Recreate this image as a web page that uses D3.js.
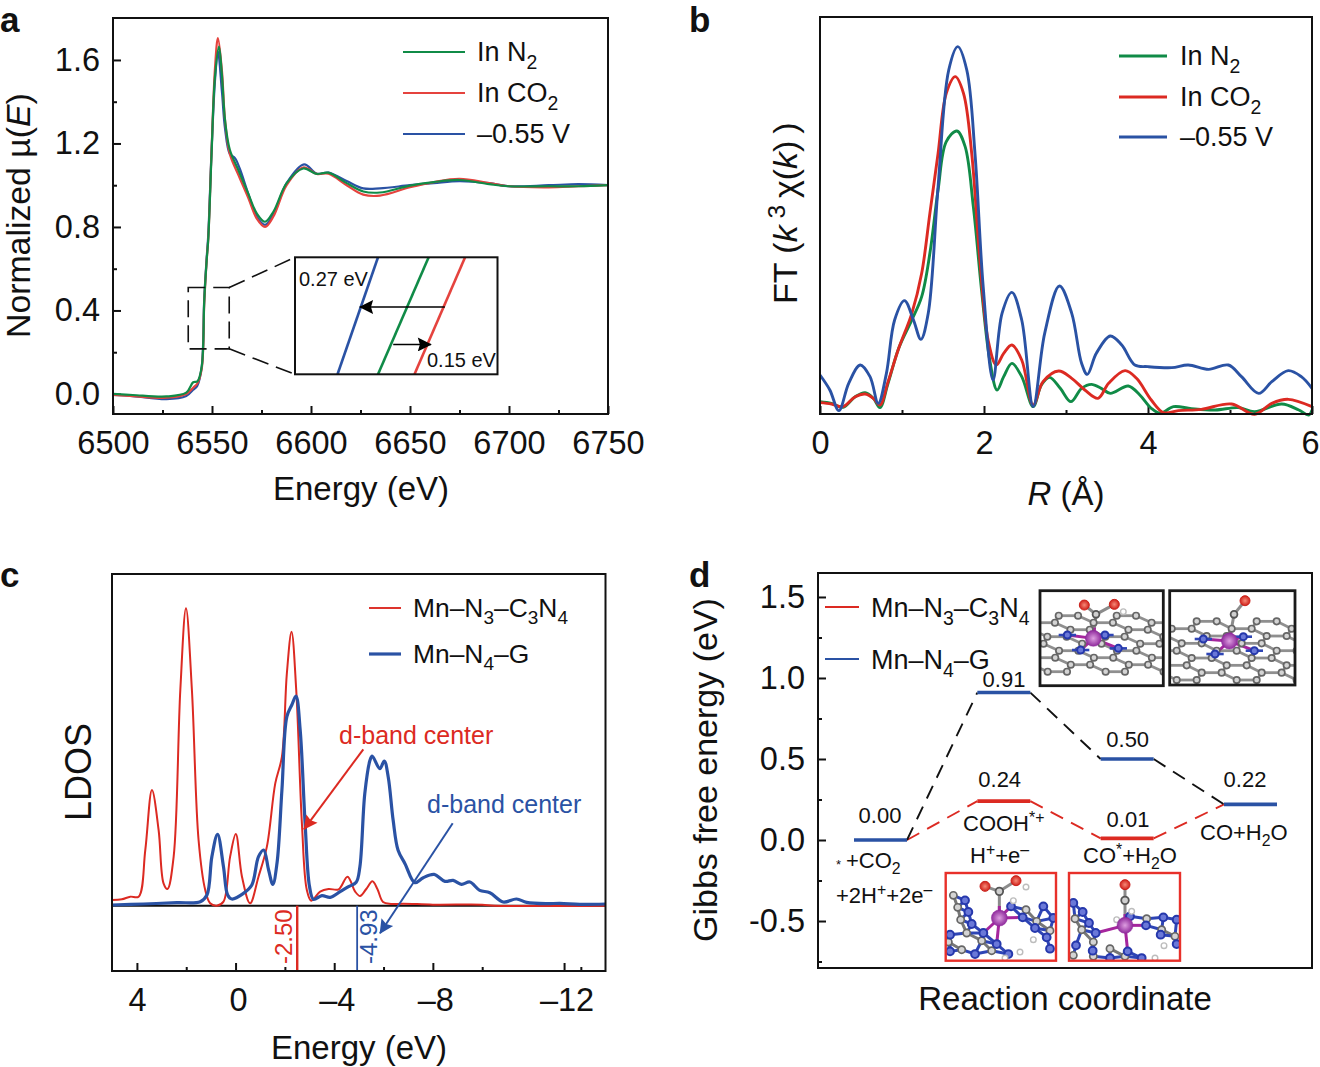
<!DOCTYPE html>
<html><head><meta charset="utf-8">
<script src="https://cdn.jsdelivr.net/npm/d3@7"></script>
<style>
html,body{margin:0;padding:0;background:#fff}
svg{display:block}
text{font-family:"Liberation Sans",Arial,sans-serif;fill:#111}
</style></head><body>
<svg id="c" width="1320" height="1067" xmlns="http://www.w3.org/2000/svg"></svg>
<script>
// ---------- Panel a : XANES ----------
const xanesN2 = [[6500,0],[6510,-0.005],[6527,-0.012],[6537,0.006],[6540.5,0.056],[6542.6,0.06],[6544.8,0.13],[6546.1,0.45],[6547.3,0.64],[6548.1,0.74],[6549.8,1.155],[6551.5,1.52],[6553.5,1.664],[6555,1.53],[6556.6,1.31],[6559,1.17],[6563.3,1.073],[6568.3,0.96],[6572.6,0.865],[6576.8,0.825],[6581,0.873],[6587.7,1.01],[6596.1,1.08],[6602.9,1.054],[6608.8,1.06],[6618,1.01],[6626.4,0.97],[6634.8,0.965],[6650,0.998],[6662,1.015],[6675,1.025],[6690,1.005],[6700,0.995],[6720,0.995],[6735,0.995],[6750,1.0]];
const xanesCO2 = [[6500,-0.005],[6510,-0.01],[6527,-0.018],[6537,0.0],[6540.5,0.03],[6542.6,0.05],[6544.8,0.12],[6546.1,0.44],[6547.3,0.64],[6548.1,0.74],[6549.8,1.17],[6551.5,1.56],[6553,1.705],[6555,1.55],[6556.6,1.31],[6559,1.15],[6563.3,1.05],[6568.3,0.94],[6572.6,0.84],[6576.8,0.8],[6581,0.85],[6587.7,1.0],[6596.1,1.085],[6602.9,1.054],[6608.8,1.055],[6618,1.0],[6626.4,0.955],[6634.8,0.95],[6650,0.99],[6662,1.015],[6675,1.03],[6690,1.01],[6700,0.995],[6720,0.99],[6735,0.995],[6750,1.0]];
const xanesV = [[6500,-0.005],[6510,-0.01],[6527,-0.025],[6537,-0.01],[6540.5,0.02],[6542.6,0.04],[6544.8,0.13],[6546.1,0.46],[6547.3,0.65],[6548.1,0.76],[6549.8,1.17],[6551.5,1.5],[6553,1.64],[6555,1.45],[6556.6,1.27],[6559,1.15],[6561.6,1.13],[6564,1.08],[6568.3,0.96],[6572.6,0.85],[6576.8,0.81],[6581,0.86],[6587.7,1.01],[6596.5,1.1],[6602.9,1.055],[6608.8,1.06],[6618,1.02],[6626.4,0.985],[6634.8,0.985],[6650,1.0],[6662,1.01],[6675,1.02],[6690,1.01],[6700,0.995],[6720,1.0],[6735,1.005],[6750,1.0]];
const xTicksA = [6500,6550,6600,6650,6700,6750];
const xMinorA = [6525,6575,6625,6675,6725];
const yTicksA = [0,0.4,0.8,1.2,1.6];
const yMinorA = [0.2,0.6,1.0,1.4];
const legendA = ["In N_{2}","In CO_{2}","–0.55 V"];
const insetShift = {blue:[0.21,0.41],green:[0.41,0.66],red:[0.59,0.84]};

// ---------- Panel b : EXAFS ----------
const ftV = [[0,1.17],[0.12,0.72],[0.23,0.1],[0.35,0.92],[0.49,1.47],[0.61,1.12],[0.71,0.32],[0.81,1.22],[0.91,2.82],[1.03,3.4],[1.14,2.82],[1.23,2.24],[1.32,3.02],[1.44,6.82],[1.57,10.32],[1.68,11.02],[1.79,10.32],[1.89,7.82],[1.99,3.82],[2.11,1.02],[2.22,3.02],[2.34,3.65],[2.46,2.82],[2.6,0.22],[2.74,2.42],[2.92,3.84],[3.07,3.02],[3.19,1.52],[3.26,1.19],[3.37,1.82],[3.54,2.34],[3.68,2.07],[3.84,1.47],[4,1.42],[4.29,1.39],[4.49,1.47],[4.74,1.34],[4.98,1.47],[5.14,1.12],[5.35,0.62],[5.51,0.97],[5.71,1.3],[5.87,1.12],[6,0.77]];
const ftN2 = [[0,0.37],[0.14,0.32],[0.28,0.2],[0.43,0.52],[0.55,0.64],[0.65,0.47],[0.73,0.19],[0.83,0.92],[0.96,1.97],[1.12,2.82],[1.24,3.52],[1.34,4.82],[1.44,6.72],[1.54,8.17],[1.67,8.49],[1.77,8.02],[1.87,6.22],[1.97,3.72],[2.07,1.62],[2.16,0.72],[2.24,1.12],[2.34,1.52],[2.46,1.12],[2.6,0.22],[2.7,0.87],[2.8,1.1],[2.93,0.77],[3.06,0.37],[3.19,0.77],[3.31,0.89],[3.43,0.77],[3.54,0.62],[3.76,0.84],[3.9,0.57],[4.04,0.17],[4.15,0.02],[4.31,0.22],[4.53,0.16],[4.82,0.12],[5.1,0.19],[5.3,0.07],[5.63,0.3],[5.84,0.12],[5.96,-0.03],[6,0.12]];
const ftCO2 = [[0,0.34],[0.14,0.3],[0.28,0.22],[0.43,0.52],[0.55,0.6],[0.65,0.47],[0.73,0.27],[0.83,0.97],[0.96,1.97],[1.12,3.02],[1.24,4.22],[1.34,6.02],[1.44,7.82],[1.54,9.62],[1.65,10.12],[1.75,9.62],[1.85,7.82],[1.95,4.62],[2.05,2.22],[2.15,1.47],[2.24,1.82],[2.34,2.07],[2.46,1.62],[2.6,0.27],[2.72,0.97],[2.91,1.29],[3.07,1.07],[3.23,0.72],[3.39,0.47],[3.52,0.92],[3.72,1.3],[3.86,1.07],[4.04,0.42],[4.19,0.04],[4.37,0.1],[4.65,0.14],[5.02,0.3],[5.3,-0.01],[5.51,0.32],[5.71,0.44],[6,0.22]];
const xTicksB = [0,2,4,6];
const xMinorB = [1,3,5];

// ---------- Panel c : LDOS ----------
const ldosC3N4 = [[5.01,0.17],[4.61,0.19],[4.27,0.27],[3.93,0.27],[3.66,1.67],[3.39,3.47],[3.12,2.27],[2.92,0.67],[2.76,0.5],[2.51,1.47],[2.24,6.47],[2.01,8.92],[1.77,6.47],[1.5,1.97],[1.23,0.47],[1.03,0.07],[0.76,0],[0.49,0.12],[0.22,1.47],[-0.01,2.15],[-0.26,0.87],[-0.59,0.07],[-0.93,0.87],[-1.27,1.77],[-1.61,3.67],[-1.88,4.47],[-2.08,6.97],[-2.27,8.22],[-2.46,6.47],[-2.69,2.47],[-2.89,0.47],[-3.07,0.15],[-3.43,0.42],[-3.77,0.5],[-4.18,0.49],[-4.54,0.87],[-4.85,0.42],[-5.05,0.29],[-5.3,0.5],[-5.55,0.73],[-5.75,0.5],[-5.98,0.11],[-6.3,0.05],[-6.8,0.06],[-8,0.03],[-10,0.03],[-10.5,0],[-15,0]];
const ldosG = [[5.01,0.02],[3.73,0.05],[2.38,0.09],[1.43,0.12],[1.16,0.32],[0.96,1.47],[0.73,2.14],[0.49,1.17],[0.32,0.32],[0.15,0.2],[-0.32,0.37],[-0.66,0.62],[-0.93,1.47],[-1.14,1.67],[-1.34,1.07],[-1.51,0.64],[-1.68,1.27],[-1.88,3.47],[-2.08,5.67],[-2.28,6.02],[-2.45,6.29],[-2.62,5.27],[-2.82,2.47],[-3,0.57],[-3.16,0.19],[-3.5,0.3],[-3.84,0.25],[-4.24,0.42],[-4.58,0.57],[-4.89,0.7],[-5.04,1.16],[-5.24,3.36],[-5.45,4.36],[-5.54,4.49],[-5.85,4.11],[-6.03,4.34],[-6.19,3.86],[-6.39,2.56],[-6.59,1.66],[-6.87,1.26],[-7.27,0.69],[-7.61,0.84],[-8.05,0.94],[-8.49,0.73],[-8.82,0.76],[-9.16,0.64],[-9.5,0.71],[-9.9,0.46],[-10.31,0.39],[-10.85,0.11],[-11.39,0.2],[-11.8,0.1],[-12.6,0.06],[-13.15,0.07],[-13.96,0.04],[-15,0.05]];
const bandCenters = {red:-2.5, blue:-4.93};
const xTicksC = [4,0,-4,-8,-13.32];
const xTickLabelsC = ["4","0","–4","–8","–12"];
const xMinorC = [2,-2,-6,-10,-14];
const legendCD = ["Mn–N_{3}–C_{3}N_{4}","Mn–N_{4}–G"];

// ---------- Panel d : free energy ----------
const stepIndex = [0,1,2,3];
const energyG = [0.00,0.91,0.50,0.22];
const energyC3N4 = [0.00,0.24,0.01,0.22];
const energyLabelsG = ["0.00","0.91","0.50","0.22"];
const energyLabelsC = ["0.24","0.01"];
const yTicksD = [-0.5,0,0.5,1.0,1.5];
const yMinorD = [-0.75,-0.25,0.25,0.75,1.25];

// ---------- Molecular insets (atoms in inset-local units) ----------
const mol1 = {
 sheet:{ox:38,oy:260,a:58,h:21,s:17.6,levels:9}, gray:[],
 blue:[[97,150],[210,150],[137,195],[250,190]], mn:[175,160], c:[[183,88]], o:[[148,60],[238,58]], h:[[265,80]]};
const mol2 = {
 sheet:{ox:425,oy:285,a:60,h:22,s:15,levels:9}, gray:[],
 blue:[[505,162],[625,155],[540,207],[658,197]], mn:[583,168], c:[[597,88]], o:[[630,47]], h:[]};
const mol3 = {
 gray:[[40,82],[53,118],[62,155],[80,195],[125,218],[65,245],[155,248],[258,125],[290,160],[330,188],[25,222]],
 blue:[[75,97],[85,132],[95,168],[130,195],[30,200],[170,228],[105,258],[205,258],[30,250],[213,115],[248,148],[310,115],[340,150],[285,180],[320,208],[330,242]],
 mn:[178,150], c:[[178,70]], o:[[135,55],[228,38]], h:[[258,57],[220,98],[280,215],[240,252],[195,270]]};
const mol4 = {
 gray:[[405,152],[425,185],[460,222],[510,242],[400,262],[460,265],[620,152],[665,185],[705,205],[555,265]],
 blue:[[400,105],[428,132],[447,165],[467,195],[408,232],[563,250],[458,248],[605,270],[510,270],[570,145],[618,172],[670,148],[710,155],[662,200],[710,228]],
 mn:[555,172], c:[[555,97]], o:[[555,50]], h:[[530,155],[575,130],[672,233],[645,270]]};

const GREEN="#108b47", REDL="#e5433e", RED="#dc2a22", BLUE="#2a52a4";
const svg=d3.select("#c");
const defs=svg.append("defs");
defs.append("filter").attr("id","soft").append("feGaussianBlur").attr("stdDeviation",0.55);
function mk(id,c){defs.append("marker").attr("id",id).attr("viewBox","0 0 10 10").attr("refX",9.5).attr("refY",5)
 .attr("markerUnits","userSpaceOnUse").attr("markerWidth",17).attr("markerHeight",14).attr("orient","auto")
 .append("path").attr("d","M0,0L10,5L0,10L1.5,5Z").attr("fill",c);}
mk("aK","#000");mk("aR",RED);mk("aB",BLUE);
function radial(id,c0,c1){const g=defs.append("radialGradient").attr("id",id);g.append("stop").attr("offset","0%").attr("stop-color",c0);g.append("stop").attr("offset","100%").attr("stop-color",c1);}
radial("gMn","#dd9ee0","#8f2a9c");radial("gO","#f58a78","#d0211a");

function rich(t,s){
 const parts=s.split(/(_\{[^}]*\}|\^\{[^}]*\}|\*\{[^}]*\})/).filter(p=>p.length);
 let pend=0;const fs=parseFloat(t.attr("font-size"));
 parts.forEach(p=>{
  const m=p.match(/^([_^*])\{(.*)\}$/);
  const ts=t.append("tspan");
  let shift=0;
  if(m&&m[1]!=="*"){shift=(m[1]==="_"?0.28:-0.36)*fs;ts.attr("font-size",fs*0.72).text(m[2]);}
  else if(m){ts.attr("font-style","italic").text(m[2]);}
  else ts.text(p);
  const dy=pend+shift; if(dy) ts.attr("dy",dy);
  pend=-shift;
 });
 return t;
}
function label(x,y,s,o={}){
 const t=svg.append("text").attr("x",x).attr("y",y).attr("font-size",o.size||32)
  .attr("text-anchor",o.anchor||"start").style("fill",o.fill||"#111");
 if(o.rotate) t.attr("transform",`rotate(-90 ${x} ${y})`);
 if(o.bold) t.attr("font-weight","bold");
 return rich(t,s);
}
function frame(x0,y0,x1,y1,sw=2){svg.append("rect").attr("x",x0).attr("y",y0).attr("width",x1-x0).attr("height",y1-y0).attr("fill","none").attr("stroke","#111").attr("stroke-width",sw);}
function axis(gen,tx,ty){
 const g=svg.append("g").attr("transform",`translate(${tx},${ty})`).call(gen);
 g.select(".domain").remove();
 g.selectAll("line").attr("stroke","#111").attr("stroke-width",2);
 g.selectAll("text").attr("font-size",32.5).attr("font-family",'"Liberation Sans",Arial,sans-serif').style("fill","#111");
 return g;
}
function curve(sc,sy,d,color,w,cv){
 svg.append("path").attr("d",d3.line().x(p=>sc(p[0])).y(p=>sy(p[1])).curve(cv||d3.curveCatmullRom.alpha(0.5))(d))
  .attr("fill","none").attr("stroke",color).attr("stroke-width",w).attr("stroke-linejoin","round");
}
function legendRows(x0,x1,tx,ys,labels,colors,w,size,baseOff){
 labels.forEach((l,i)=>{
  svg.append("line").attr("x1",x0).attr("x2",x1).attr("y1",ys[i]).attr("y2",ys[i]).attr("stroke",colors[i]).attr("stroke-width",Array.isArray(w)?w[i]:w);
  label(tx,ys[i]+baseOff,l,{size});
 });
}

/* ===== a ===== */
const ax=d3.scaleLinear().domain([6500,6750]).range([113,608]);
const ay=d3.scaleLinear().domain([-0.096,1.801]).range([414,18]);
axis(d3.axisBottom(ax).tickValues(xTicksA).tickFormat(d3.format("d")).tickSize(-8).tickPadding(17),0,414);
axis(d3.axisBottom(ax).tickValues(xMinorA).tickFormat("").tickSize(-4),0,414);
axis(d3.axisLeft(ay).tickValues(yTicksA).tickFormat(d3.format(".1f")).tickSize(-8).tickPadding(13),113,0);
axis(d3.axisLeft(ay).tickValues(yMinorA).tickFormat("").tickSize(-4),113,0);
curve(ax,ay,xanesV,BLUE,2.2);
curve(ax,ay,xanesCO2,REDL,2.2);
curve(ax,ay,xanesN2,GREEN,2.2);
frame(113,18,608,414);
label(0,32,"a",{size:35,bold:true});
label(30,338,"Normalized µ(*{E})",{size:33.8,rotate:true});
label(361,500,"Energy (eV)",{size:33,anchor:"middle"});
legendRows(403,465,477,[52,93,134],legendA,[GREEN,REDL,BLUE],2.2,27,9);
// zoom box and inset
const dash="17 8";
svg.append("rect").attr("x",ax(6538)).attr("y",ay(0.51)).attr("width",ax(6558.7)-ax(6538)).attr("height",ay(0.216)-ay(0.51)).attr("fill","none").attr("stroke","#111").attr("stroke-width",1.6).attr("stroke-dasharray",dash);
const ix=d3.scaleLinear().domain([0,1]).range([295,497.5]);
const iy=d3.scaleLinear().domain([0,1]).range([374.3,257.3]);
svg.append("line").attr("x1",ax(6558.7)).attr("y1",ay(0.51)).attr("x2",ix(0)).attr("y2",iy(1)).attr("stroke","#111").attr("stroke-width",1.6).attr("stroke-dasharray",dash);
svg.append("line").attr("x1",ax(6558.7)).attr("y1",ay(0.216)).attr("x2",ix(0)).attr("y2",iy(0)).attr("stroke","#111").attr("stroke-width",1.6).attr("stroke-dasharray",dash);
[["blue",BLUE],["green",GREEN],["red",REDL]].forEach(([k,c])=>{
 svg.append("line").attr("x1",ix(insetShift[k][0])).attr("y1",iy(0)).attr("x2",ix(insetShift[k][1])).attr("y2",iy(1)).attr("stroke",c).attr("stroke-width",2.6);
});
svg.append("rect").attr("x",295).attr("y",257.3).attr("width",202.5).attr("height",117).attr("fill","none").attr("stroke","#111").attr("stroke-width",2);
svg.append("line").attr("x1",ix(0.74)).attr("x2",ix(0.32)).attr("y1",iy(0.575)).attr("y2",iy(0.575)).attr("stroke","#000").attr("stroke-width",1.6).attr("marker-end","url(#aK)");
svg.append("line").attr("x1",ix(0.485)).attr("x2",ix(0.672)).attr("y1",iy(0.255)).attr("y2",iy(0.255)).attr("stroke","#000").attr("stroke-width",1.6).attr("marker-end","url(#aK)");
label(299,286,"0.27 eV",{size:20});
label(427,367,"0.15 eV",{size:20});

/* ===== b ===== */
const bx=d3.scaleLinear().domain([0,6]).range([820,1312]);
const by=d3.scaleLinear().domain([0,11.91]).range([414,17]);
const bAxis=axis(d3.axisBottom(bx).tickValues(xTicksB).tickFormat(d3.format("d")).tickSize(-8).tickPadding(17),0,414);
bAxis.selectAll("text").attr("dx",v=>v===6?-2:0);
axis(d3.axisBottom(bx).tickValues(xMinorB).tickFormat("").tickSize(-4),0,414);
curve(bx,by,ftN2,GREEN,2.9);
curve(bx,by,ftCO2,RED,2.9);
curve(bx,by,ftV,BLUE,2.9);
frame(820,17,1312,414);
label(689,32,"b",{size:35,bold:true});
label(797,304,"FT (*{k}\u2009^{3}\u2009χ(*{k})\u2009)",{size:34,rotate:true});
label(1066,505,"*{R} (Å)",{size:33,anchor:"middle"});
legendRows(1119,1167,1180,[56,97,137],legendA,[GREEN,RED,BLUE],2.9,27,9);

/* ===== c ===== */
const cx=d3.scaleLinear().domain([5.01,-15]).range([112,605.5]);
const cy=d3.scaleLinear().domain([-1.96,9.95]).range([971,574]);
const cLab=new Map(xTicksC.map((v,i)=>[v,xTickLabelsC[i]]));
const cAxis=axis(d3.axisBottom(cx).tickValues(xTicksC).tickFormat(v=>cLab.get(v)).tickSize(-8).tickPadding(17),0,971);
cAxis.selectAll("text").attr("dx",v=>v===4?0:2.5);
axis(d3.axisBottom(cx).tickValues(xMinorC).tickFormat("").tickSize(-4),0,971);
svg.append("line").attr("x1",112).attr("x2",605).attr("y1",cy(0)).attr("y2",cy(0)).attr("stroke","#111").attr("stroke-width",2);
curve(cx,cy,ldosC3N4,RED,2);
curve(cx,cy,ldosG,BLUE,3.2);
[["red",RED,2.4],["blue",BLUE,1.8]].forEach(([k,c,w])=>{
 svg.append("line").attr("x1",cx(bandCenters[k])).attr("x2",cx(bandCenters[k])).attr("y1",cy(0)).attr("y2",971).attr("stroke",c).attr("stroke-width",w);
});
frame(112,574,605.5,971);
label(0,587,"c",{size:35,bold:true});
label(91,821,"LDOS",{size:36,rotate:true});
label(359,1059,"Energy (eV)",{size:33,anchor:"middle"});
legendRows(369,401,413,[608,654],legendCD,[RED,BLUE],[1.9,3.2],26.4,9);
label(339,744,"d-band center",{size:25,fill:RED});
label(427,813,"d-band center",{size:25,fill:BLUE});
label(292,964,"-2.50",{size:24,rotate:true,fill:RED});
label(377,964,"-4.93",{size:24,rotate:true,fill:BLUE});
svg.append("line").attr("x1",363.3).attr("y1",749.3).attr("x2",304).attr("y2",829.3).attr("stroke",RED).attr("stroke-width",2).attr("marker-end","url(#aR)");
svg.append("line").attr("x1",452.7).attr("y1",823.3).attr("x2",380).attr("y2",933.3).attr("stroke",BLUE).attr("stroke-width",2).attr("marker-end","url(#aB)");

/* ===== d ===== */
const dx=d3.scaleLinear().domain([0,3]).range([880.5,1250.5]);
const dy=d3.scaleLinear().domain([-0.79,1.648]).range([968,573]);
const hw=26.5;
axis(d3.axisLeft(dy).tickValues(yTicksD).tickFormat(v=>v.toFixed(1)).tickSize(-8).tickPadding(13),818,0);
axis(d3.axisLeft(dy).tickValues(yMinorD).tickFormat("").tickSize(-4),818,0);
function connectors(vals,c){
 for(let i=0;i<3;i++){
  svg.append("line").attr("x1",dx(stepIndex[i])+hw).attr("y1",dy(vals[i])).attr("x2",dx(stepIndex[i+1])-hw).attr("y2",dy(vals[i+1]))
   .attr("stroke",c).attr("stroke-width",1.9).attr("stroke-dasharray","14 9");
 }
}
connectors(energyC3N4,RED);
connectors(energyG,"#111");
function levels(vals,c,skip){
 vals.forEach((v,i)=>{ if(skip.includes(i))return;
  svg.append("line").attr("x1",dx(stepIndex[i])-hw).attr("x2",dx(stepIndex[i])+hw).attr("y1",dy(v)).attr("y2",dy(v)).attr("stroke",c).attr("stroke-width",3.6);
 });
}
levels(energyC3N4,RED,[0,3]);
levels(energyG,BLUE,[]);
frame(818,573,1312,968);
label(689,587,"d",{size:35,bold:true});
label(717,942,"Gibbs free energy (eV)",{size:34,rotate:true});
label(1065,1010,"Reaction coordinate",{size:33,anchor:"middle"});
legendRows(825,859,871,[607,659],legendCD,[RED,BLUE],2,27,10);
[[880,823],[1004,687],[1127.7,746.7],[1245,787]].forEach((p,i)=>label(p[0],p[1],energyLabelsG[i],{size:22,anchor:"middle"}));
[[999.7,786.7],[1128,826.7]].forEach((p,i)=>label(p[0],p[1],energyLabelsC[i],{size:22,anchor:"middle"}));
label(963,831,"COOH^{*+}",{size:22});
label(970,863,"H^{+}+e^{–}",{size:22});
label(1083,863,"CO^{*}+H_{2}O",{size:22});
label(1200,840,"CO+H_{2}O",{size:22});
label(836,869,"*",{size:13});
label(846,868,"+CO_{2}",{size:22});
label(836,903,"+2H^{+}+2e^{–}",{size:22});

function sheetGraph(p){
 const v=[],b=[];
 for(let n=0;n<p.levels;n++){
  const y=p.oy-p.h*n;
  for(let k=-3;k<9;k++){
   const x0=p.ox-p.s*n+(n%2?1.5*p.a:0)+3*p.a*k;
   v.push({x:x0,y,n,side:0},{x:x0+p.a,y,n,side:1});
   b.push([[x0,y],[x0+p.a,y]]);
  }
 }
 v.forEach(r=>{ if(r.side!==1)return;
  v.forEach(l=>{ if(l.side===0&&Math.abs(l.n-r.n)===1&&l.x>r.x&&l.x-r.x<p.a) b.push([[r.x,r.y],[l.x,l.y]]); });
 });
 return {v:v.map(d=>[d.x,d.y]),b};
}
function molecule(m,z,box,stroke,sw,idn){
 const sx=d3.scaleLinear().domain(z.x).range([box[0],box[2]]);
 const sy=d3.scaleLinear().domain(z.y).range([box[1],box[3]]);
 defs.append("clipPath").attr("id",idn).append("rect").attr("x",box[0]).attr("y",box[1]).attr("width",box[2]-box[0]).attr("height",box[3]-box[1]);
 const g=svg.append("g").attr("clip-path",`url(#${idn})`).append("g").attr("filter","url(#soft)");
 const seg=(a,b,c,w)=>g.append("line").attr("x1",sx(a[0])).attr("y1",sy(a[1])).attr("x2",sx(b[0])).attr("y2",sy(b[1])).attr("stroke",c).attr("stroke-width",w);
 const dot=(d,r,f,s,w)=>g.append("circle").attr("cx",sx(d[0])).attr("cy",sy(d[1])).attr("r",r).attr("fill",f).attr("stroke",s).attr("stroke-width",w);
 let gray=m.gray;
 if(m.sheet){const sg=sheetGraph(m.sheet);sg.b.forEach(b=>seg(b[0],b[1],"#8f8f8f",2.8));gray=sg.v;}
 else{
  const lat=m.gray.concat(m.blue);
  for(let i=0;i<lat.length;i++)for(let j=i+1;j<lat.length;j++){
   if(Math.hypot(lat[i][0]-lat[j][0],lat[i][1]-lat[j][1])<z.bond) seg(lat[i],lat[j],(i>=m.gray.length||j>=m.gray.length)?"#2f45b5":"#777",3);
  }
 }
 m.blue.slice().sort((a,b)=>Math.hypot(a[0]-m.mn[0],a[1]-m.mn[1])-Math.hypot(b[0]-m.mn[0],b[1]-m.mn[1])).slice(0,4).forEach(b=>seg(m.mn,b,"#a5259d",3));
 m.c.forEach(c=>{
  seg(m.mn,c,"#8b8b8b",3);
  seg(m.mn,[m.mn[0]+(c[0]-m.mn[0])*0.45,m.mn[1]+(c[1]-m.mn[1])*0.45],"#a5259d",3);
  m.o.forEach(o=>seg(c,o,"#8b8b8b",3));
 });
 gray.forEach(d=>dot(d,z.r,"#d4d4d4","#666",1.7));
 if(m.sheet) m.blue.forEach(d=>seg([d[0]-26,d[1]],[d[0]+26,d[1]],"#2f45b5",2.6));
 m.blue.forEach(d=>dot(d,z.r+0.3,"#6a78d8","#2638ac",2));
 m.h.forEach(d=>dot(d,2.8,"#fff","#bdbdbd",1.4));
 m.c.forEach(d=>dot(d,z.r+0.2,"#cfcfcf","#555",1.8));
 m.o.forEach(d=>dot(d,5,"url(#gO)","#c9201a",1));
 dot(m.mn,8,"url(#gMn)","#8f2a9c",0.5);
 svg.append("rect").attr("x",box[0]).attr("y",box[1]).attr("width",box[2]-box[0]).attr("height",box[3]-box[1]).attr("fill","none").attr("stroke",stroke).attr("stroke-width",sw);
}
molecule(mol1,{x:[15,385],y:[17,302],r:3.2},[1040,590.7,1163.3,685.7],"#1a1a1a",2.8,"m1");
molecule(mol2,{x:[404,780],y:[17,300],r:3.2},[1169.7,590.7,1295,685],"#1a1a1a",2.8,"m2");
molecule(mol3,{x:[17,348],y:[15,278],bond:52,r:3.6},[945.7,873,1056,960.7],"#e8302a",2.4,"m3");
molecule(mol4,{x:[387,720],y:[15,278],bond:52,r:3.6},[1069,873,1180,960.7],"#e8302a",2.4,"m4");
</script>
</body></html>
